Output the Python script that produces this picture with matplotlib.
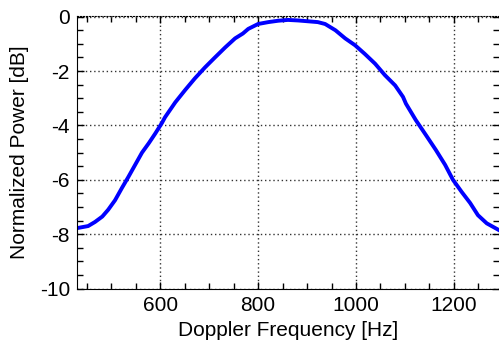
import matplotlib
matplotlib.use("Agg")
import matplotlib.pyplot as plt
from matplotlib.ticker import MultipleLocator

plt.rcParams["font.family"] = ["Liberation Sans", "DejaVu Sans"]
plt.rcParams["axes.unicode_minus"] = False

# values
freq_hz = [432, 453, 467, 482, 494, 508, 522, 535, 549, 563, 577, 590, 604,
           610, 631, 651, 671, 692, 712, 733, 753, 769, 780, 800, 821, 841,
           861, 882, 902, 922, 937, 958, 978, 998, 1018, 1039, 1059, 1080,
           1096, 1102, 1122, 1143, 1163, 1182, 1198, 1216, 1233, 1249, 1267,
           1284, 1292]
power_db = [-7.77, -7.7, -7.55, -7.35, -7.1, -6.75, -6.3, -5.9, -5.45, -5.0,
            -4.65, -4.3, -3.9, -3.7, -3.15, -2.7, -2.27, -1.86, -1.5, -1.13,
            -0.8, -0.62, -0.45, -0.27, -0.2, -0.15, -0.12, -0.14, -0.17, -0.2,
            -0.27, -0.5, -0.8, -1.05, -1.37, -1.73, -2.15, -2.53, -2.95, -3.2,
            -3.8, -4.36, -4.9, -5.45, -6.0, -6.45, -6.85, -7.3, -7.6, -7.77,
            -7.85]

fig = plt.figure(figsize=(4.99, 3.43), dpi=100)
ax = fig.add_axes([0.154, 0.157, 0.846, 0.796])

ax.plot(freq_hz, power_db, color="#0000ff", lw=2.8, solid_joinstyle="round")

ax.set_xlim(430, 1292)
ax.set_ylim(-10.02, 0.02)
ax.xaxis.set_major_locator(MultipleLocator(200))
ax.xaxis.set_minor_locator(MultipleLocator(50))
ax.yaxis.set_major_locator(MultipleLocator(2))
ax.yaxis.set_minor_locator(MultipleLocator(0.5))

ax.grid(True, which="major", color="#333333", linestyle=(0, (1, 2)), linewidth=1.0)
ax.tick_params(which="both", direction="in", top=True, right=True,
               labelsize=15, colors="black", pad=5)
ax.tick_params(which="major", length=5, width=1)
ax.tick_params(which="minor", length=4, width=1)

ax.spines["right"].set_visible(False)
ax.spines["top"].set_linestyle(":")

ax.set_xlabel("Doppler Frequency [Hz]", fontsize=15, labelpad=4)
ax.set_ylabel("Normalized Power [dB]", fontsize=15, labelpad=8)

fig.savefig("out.png", dpi=100)
